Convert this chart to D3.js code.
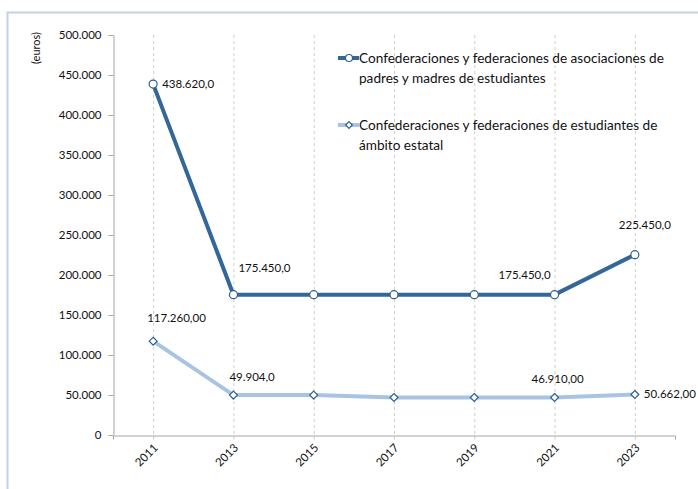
<!DOCTYPE html>
<html>
<head>
<meta charset="utf-8">
<script src="https://cdn.jsdelivr.net/npm/d3@7.9.0/dist/d3.min.js"></script>
<style>
  body { margin: 0; background: #fff; }
  svg { display: block; font-family: Lato, "Noto Sans", sans-serif; }
</style>
</head>
<body>
<div id="chart"></div>
<script>
// Data
const years = ["2011", "2013", "2015", "2017", "2019", "2021", "2023"];
const padresValues = [438620, 175450, 175450, 175450, 175450, 175450, 225450];
const estudiantesValues = [117260, 49904, 49904, 46910, 46910, 46910, 50662];
const yTicks = [0, 50000, 100000, 150000, 200000, 250000, 300000, 350000, 400000, 450000, 500000];
const seriesNames = [
  ["Confederaciones y federaciones de asociaciones de", "padres y madres de estudiantes"],
  ["Confederaciones y federaciones de estudiantes de", "ámbito estatal"]
];
// value labels: [index, text]
const padresLabels = [[0, "438.620,0"], [1, "175.450,0"], [5, "175.450,0"], [6, "225.450,0"]];
const estudiantesLabels = [[0, "117.260,00"], [1, "49.904,0"], [5, "46.910,00"], [6, "50.662,00"]];

const width = 698;
const height = 489;
const plot = { left: 113, right: 675, top: 35, bottom: 435 };

const darkBlue = "#336699";
const lightBlue = "#a9c4e2";
const markerStroke = "#2f5f8f";
const textColor = "#111";

const xScale = d3.scalePoint().domain(years).range([plot.left, plot.right]).padding(0.5);
const yScale = d3.scaleLinear().domain([0, 500000]).range([plot.bottom, plot.top]);

const fmtTick = (d) => d === 0 ? "0" : d3.format(",")(d).replace(/,/g, ".");

const svg = d3.select("#chart").append("svg").attr("width", width).attr("height", height);

// chart frame
svg.append("rect")
  .attr("x", 7.5).attr("y", 12.5)
  .attr("width", 720).attr("height", 500)
  .attr("fill", "none").attr("stroke", "#c4d2e6").attr("stroke-width", 2);

// vertical dashed gridlines
svg.append("g")
  .selectAll("line")
  .data(years)
  .join("line")
  .attr("x1", (d) => xScale(d) + 0.5).attr("x2", (d) => xScale(d) + 0.5)
  .attr("y1", plot.top).attr("y2", plot.bottom)
  .attr("stroke", "#cfcfcf").attr("stroke-dasharray", "3,3");

// y axis
const yAxis = svg.append("g")
  .attr("transform", `translate(${plot.left + 0.5},0)`)
  .call(d3.axisLeft(yScale).tickValues(yTicks).tickFormat(fmtTick).tickSize(5).tickSizeOuter(0).tickPadding(7));
yAxis.select(".domain").attr("stroke", "#a6a6a6");
yAxis.selectAll(".tick line").attr("stroke", "#a6a6a6");
yAxis.selectAll("text").attr("font-size", 11.5).attr("fill", textColor).attr("font-family", "Lato, 'Noto Sans', sans-serif");

// x axis
const xAxis = svg.append("g")
  .attr("transform", `translate(0,${plot.bottom + 0.5})`)
  .call(d3.axisBottom(xScale).tickSize(4).tickSizeOuter(4));
xAxis.select(".domain").attr("stroke", "#a6a6a6");
xAxis.selectAll(".tick line").attr("stroke", "#c8c8c8");
xAxis.selectAll("text")
  .attr("font-size", 11.5).attr("fill", textColor).attr("font-family", "Lato, 'Noto Sans', sans-serif")
  .attr("text-anchor", "end")
  .attr("dy", null).attr("y", 0)
  .attr("transform", "translate(5,13) rotate(-45)");

// y axis title
svg.append("text")
  .attr("transform", "translate(40,48) rotate(-90)")
  .attr("text-anchor", "middle")
  .attr("font-size", 11).attr("fill", textColor)
  .text("(euros)");

const line = d3.line().x((d, i) => xScale(years[i])).y((d) => yScale(d));

// series 2 (light)
svg.append("path")
  .datum(estudiantesValues)
  .attr("d", line)
  .attr("fill", "none").attr("stroke", lightBlue).attr("stroke-width", 4);

// series 1 (dark)
svg.append("path")
  .datum(padresValues)
  .attr("d", line)
  .attr("fill", "none").attr("stroke", darkBlue).attr("stroke-width", 4);

const diamond = d3.symbol().type(d3.symbolDiamond2).size(40);

svg.append("g")
  .selectAll("path")
  .data(estudiantesValues)
  .join("path")
  .attr("d", diamond)
  .attr("transform", (d, i) => `translate(${xScale(years[i])},${yScale(d)})`)
  .attr("fill", "#fff").attr("stroke", markerStroke).attr("stroke-width", 1.2);

svg.append("g")
  .selectAll("circle")
  .data(padresValues)
  .join("circle")
  .attr("cx", (d, i) => xScale(years[i]))
  .attr("cy", (d) => yScale(d))
  .attr("r", 4)
  .attr("fill", "#fff").attr("stroke", markerStroke).attr("stroke-width", 1.2);

// data labels
const labelOffsets = {
  p0: [9, 0, "start"], p1: [5, -27, "start"], p5: [-4, -20, "end"], p6: [-16, -30, "start"],
  e0: [-6, -23, "start"], e1: [-4, -18, "start"], e5: [-23, -18, "start"], e6: [9, 0, "start"]
};
function drawLabels(labels, values, key) {
  svg.append("g")
    .selectAll("text")
    .data(labels)
    .join("text")
    .attr("x", (d) => xScale(years[d[0]]) + labelOffsets[key + d[0]][0])
    .attr("y", (d) => yScale(values[d[0]]) + labelOffsets[key + d[0]][1])
    .attr("dy", "0.35em")
    .attr("text-anchor", (d) => labelOffsets[key + d[0]][2])
    .attr("font-size", 11.5).attr("fill", textColor)
    .text((d) => d[1]);
}
drawLabels(padresLabels, padresValues, "p");
drawLabels(estudiantesLabels, estudiantesValues, "e");

// legend
const legend = svg.append("g").attr("transform", "translate(338,58)");
const legendRows = [
  { y: 0, color: darkBlue, shape: "circle" },
  { y: 67, color: lightBlue, shape: "diamond" }
];
legendRows.forEach((row, k) => {
  const g = legend.append("g").attr("transform", `translate(0,${row.y})`);
  g.append("line").attr("x1", 0).attr("x2", 21).attr("y1", 0).attr("y2", 0)
    .attr("stroke", row.color).attr("stroke-width", 4);
  if (row.shape === "circle") {
    g.append("circle").attr("cx", 11).attr("cy", 0).attr("r", 3.5)
      .attr("fill", "#fff").attr("stroke", markerStroke).attr("stroke-width", 1.2);
  } else {
    g.append("path").attr("d", d3.symbol().type(d3.symbolDiamond2).size(28))
      .attr("transform", "translate(11,0)")
      .attr("fill", "#fff").attr("stroke", markerStroke).attr("stroke-width", 1.2);
  }
  g.selectAll("text")
    .data(seriesNames[k])
    .join("text")
    .attr("x", 21)
    .attr("y", (d, i) => i * 20)
    .attr("dy", "0.35em")
    .attr("font-size", 13.6).attr("fill", textColor)
    .text((d) => d);
});
</script>
</body>
</html>
